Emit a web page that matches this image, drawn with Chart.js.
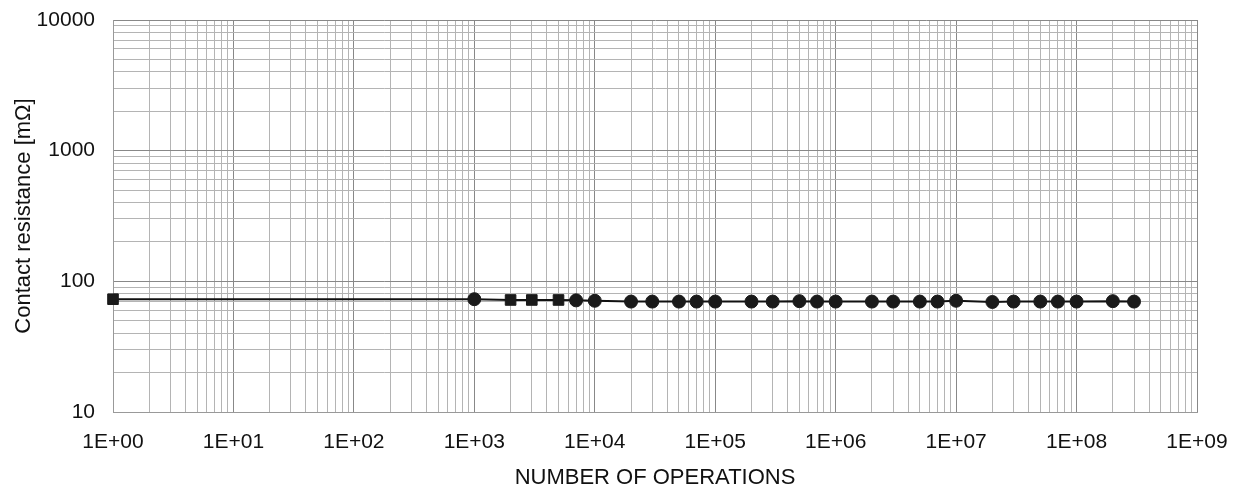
<!DOCTYPE html>
<html>
<head>
<meta charset="utf-8">
<script src="https://cdn.jsdelivr.net/npm/chart.js@4.4.1/dist/chart.umd.min.js"></script>
<style>
  html, body { margin: 0; padding: 0; background: #ffffff; }
  #wrap { width: 1239px; height: 492px; position: relative; }
</style>
</head>
<body>
<div id="wrap"><canvas id="lifeChart"></canvas></div>
<script>
// Number of operations (x) and contact resistance in mΩ (y)
const operations = [1, 1e3, 2e3, 3e3, 5e3, 7e3, 1e4, 2e4, 3e4, 5e4, 7e4, 1e5, 2e5, 3e5, 5e5, 7e5,
  1e6, 2e6, 3e6, 5e6, 7e6, 1e7, 2e7, 3e7, 5e7, 7e7, 1e8, 2e8, 3e8];
const resistance = [73, 73, 72, 72, 72, 71.5, 71, 70, 70, 70, 70, 70, 70, 70, 70.5, 70,
  70, 70, 70, 70, 70, 71, 69.5, 70, 70, 70, 70, 70.5, 70];
const markerShapes = ['rect', 'circle', 'rect', 'rect', 'rect', 'circle', 'circle', 'circle', 'circle', 'circle',
  'circle', 'circle', 'circle', 'circle', 'circle', 'circle', 'circle', 'circle', 'circle', 'circle',
  'circle', 'circle', 'circle', 'circle', 'circle', 'circle', 'circle', 'circle', 'circle'];

// Tick labels for each decade
const xTickLabels = ['1E+00', '1E+01', '1E+02', '1E+03', '1E+04', '1E+05', '1E+06', '1E+07', '1E+08', '1E+09'];
const yTickLabels = ['10', '100', '1000', '10000'];
const xMin = 1, xMax = 1e9;
const yMin = 10, yMax = 10000;

const fontFamily = '"Liberation Sans", Arial, sans-serif';

// 1,2,...,9 x 10^k between min and max
function decadeTicks(min, max) {
  const ticks = [];
  for (let e = Math.round(Math.log10(min)); e < Math.round(Math.log10(max)); e++) {
    for (let m = 1; m <= 9; m++) ticks.push({ value: m * Math.pow(10, e) });
  }
  ticks.push({ value: max });
  return ticks;
}

function isDecade(v) {
  const e = Math.round(Math.log10(v));
  return Math.abs(v - Math.pow(10, e)) < 1e-9 * v;
}

function gridColor(ctx) {
  if (!ctx.tick) return '#b0b0b0';
  return isDecade(ctx.tick.value) ? '#888888' : '#b4b4b4';
}

const points = operations.map((x, i) => ({ x: x, y: resistance[i] }));

new Chart(document.getElementById('lifeChart'), {
  type: 'line',
  data: {
    datasets: [{
      data: points,
      borderColor: '#111111',
      borderWidth: 2,
      backgroundColor: '#111111',
      pointStyle: markerShapes,
      pointRadius: markerShapes.map(s => (s === 'rect' ? 7.5 : 6.5)),
      pointBackgroundColor: '#1a1a1a',
      pointBorderColor: '#1a1a1a',
      pointBorderWidth: 1,
      tension: 0,
      clip: false,
    }],
  },
  options: {
    responsive: true,
    maintainAspectRatio: false,
    animation: false,
    layout: { padding: { top: 20, right: 42, bottom: 0, left: 0 } },
    plugins: {
      legend: { display: false },
      tooltip: { enabled: false },
    },
    scales: {
      x: {
        type: 'logarithmic',
        min: xMin,
        max: xMax,
        afterBuildTicks: scale => { scale.ticks = decadeTicks(xMin, xMax); },
        afterFit: scale => {
          scale.height = 80;
          scale.paddingLeft = 0;
          scale.paddingRight = 0;
        },
        grid: { color: gridColor, lineWidth: 1, drawTicks: false },
        border: { color: '#999999' },
        ticks: {
          autoSkip: false,
          maxRotation: 0,
          padding: 18,
          color: '#111111',
          font: { family: fontFamily, size: 21 },
          callback: value => (isDecade(value) ? xTickLabels[Math.round(Math.log10(value))] : ''),
        },
        title: {
          display: true,
          text: 'NUMBER OF OPERATIONS',
          color: '#111111',
          font: { family: fontFamily, size: 22 },
          padding: { top: 0, bottom: 1 },
        },
      },
      y: {
        type: 'logarithmic',
        min: yMin,
        max: yMax,
        afterBuildTicks: scale => { scale.ticks = decadeTicks(yMin, yMax); },
        afterFit: scale => {
          scale.width = 113;
          scale.paddingTop = 0;
          scale.paddingBottom = 0;
        },
        grid: { color: gridColor, lineWidth: 1, drawTicks: false },
        border: { color: '#999999' },
        ticks: {
          autoSkip: false,
          padding: 18,
          color: '#111111',
          font: { family: fontFamily, size: 21 },
          callback: value => (isDecade(value) ? yTickLabels[Math.round(Math.log10(value)) - 1] : ''),
        },
        title: {
          display: true,
          text: 'Contact resistance [mΩ]',
          color: '#111111',
          font: { family: fontFamily, size: 22 },
          padding: { top: 11, bottom: 0 },
        },
      },
    },
  },
});
</script>
</body>
</html>
